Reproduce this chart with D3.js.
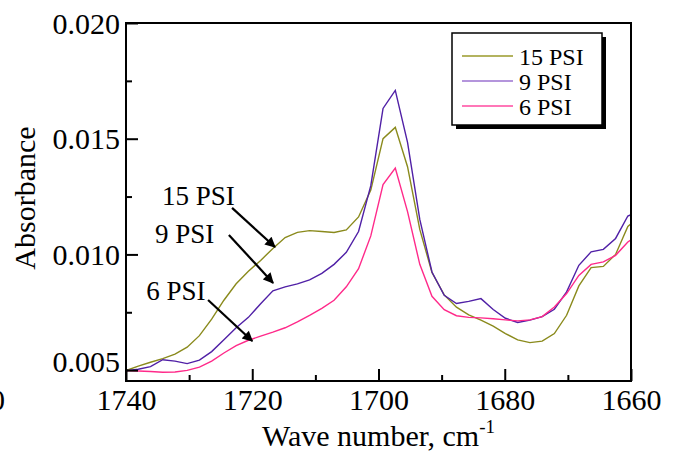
<!DOCTYPE html>
<html>
<head>
<meta charset="utf-8">
<script src="https://cdn.jsdelivr.net/npm/d3@7"></script>
<style>
  html, body { margin: 0; padding: 0; background: #fff; }
  svg, svg text { font-family: "Liberation Serif", "Times New Roman", Times, Tinos, "DejaVu Serif", serif !important; }
  svg { display: block; }
</style>
</head>
<body>
<svg id="chart" width="675" height="452"></svg>
<script>
// ---------------- data ----------------
const wavenumbers = [1740.00, 1738.06, 1736.12, 1734.18, 1732.24, 1730.31, 1728.37, 1726.43, 1724.49, 1722.55,
  1720.61, 1718.67, 1716.73, 1714.79, 1712.85, 1710.92, 1708.98, 1707.04, 1705.10, 1703.16,
  1701.22, 1699.28, 1697.34, 1695.40, 1693.46, 1691.53, 1689.59, 1687.65, 1685.71, 1683.77,
  1681.83, 1679.89, 1677.95, 1676.01, 1674.07, 1672.14, 1670.20, 1668.26, 1666.32, 1664.38,
  1662.44, 1660.50, 1660.00];

const psi15 = [0.00498, 0.00517, 0.00534, 0.00550, 0.00569, 0.00599, 0.00649, 0.00720, 0.00802, 0.00873,
  0.00927, 0.00974, 0.01026, 0.01073, 0.01095, 0.01103, 0.01099, 0.01095, 0.01106, 0.01162,
  0.01278, 0.01500, 0.01549, 0.01379, 0.01108, 0.00922, 0.00825, 0.00772, 0.00739, 0.00716,
  0.00690, 0.00658, 0.00631, 0.00619, 0.00625, 0.00658, 0.00737, 0.00864, 0.00943, 0.00948,
  0.01000, 0.01121, 0.01132];

const psi9 = [0.00498, 0.00504, 0.00515, 0.00545, 0.00539, 0.00528, 0.00543, 0.00580, 0.00631, 0.00683,
  0.00728, 0.00787, 0.00843, 0.00860, 0.00873, 0.00890, 0.00918, 0.00957, 0.01009, 0.01099,
  0.01297, 0.01631, 0.01709, 0.01484, 0.01151, 0.00924, 0.00823, 0.00788, 0.00797, 0.00809,
  0.00762, 0.00724, 0.00706, 0.00716, 0.00731, 0.00763, 0.00838, 0.00953, 0.01011, 0.01022,
  0.01069, 0.01166, 0.01172];

const psi6 = [0.00498, 0.00496, 0.00494, 0.00491, 0.00492, 0.00499, 0.00513, 0.00539, 0.00574, 0.00606,
  0.00629, 0.00647, 0.00664, 0.00683, 0.00709, 0.00737, 0.00767, 0.00802, 0.00860, 0.00938,
  0.01080, 0.01302, 0.01373, 0.01185, 0.00957, 0.00819, 0.00761, 0.00735, 0.00728, 0.00726,
  0.00722, 0.00717, 0.00713, 0.00717, 0.00731, 0.00773, 0.00831, 0.00909, 0.00957, 0.00968,
  0.00996, 0.01054, 0.01063];

const seriesNames = ["15 PSI", "9 PSI", "6 PSI"];
const seriesColors = ["#8a8a1c", "#5020a6", "#ff2a8a"];
const legendColors = ["#9a9a2a", "#9b72d0", "#ff4aa0"];

const xMajorTicks = [1740, 1720, 1700, 1680, 1660];
const xMinorTicks = [1730, 1710, 1690, 1670];
const yMajorTicks = [0.005, 0.010, 0.015, 0.020];
const yMinorTicks = [0.0075, 0.0125, 0.0175];

// annotation labels (text anchor) and arrows (from -> to), in data units
const annotations = [
  { text: "15 PSI", tx: 1734.3, ty: 0.01214, x1: 1723.2, y1: 0.01201, x2: 1716.4, y2: 0.01032 },
  { text: "9 PSI",  tx: 1735.4, ty: 0.01049, x1: 1723.7, y1: 0.01084, x2: 1716.7, y2: 0.00877 },
  { text: "6 PSI",  tx: 1736.8, ty: 0.00803, x1: 1727.0, y1: 0.00803, x2: 1720.0, y2: 0.00626 }
];

// ---------------- layout ----------------
const FONT = "'Liberation Serif', 'Times New Roman', Times, Tinos, 'DejaVu Serif', serif";
const svg = d3.select("#chart");
const L = 126, R = 631, T = 23, B = 381;

const x = d3.scaleLinear().domain([1740, 1660]).range([L, R]);
const y = d3.scaleLinear().domain([0.00453, 0.020]).range([B, T]);

const defs = svg.append("defs");
defs.append("clipPath").attr("id", "plotclip")
  .append("rect").attr("x", L).attr("y", T).attr("width", R - L).attr("height", B - T);

defs.append("marker")
  .attr("id", "arrowhead").attr("viewBox", "0 0 10 10")
  .attr("refX", 9).attr("refY", 5)
  .attr("markerWidth", 5.5).attr("markerHeight", 4.8)
  .attr("markerUnits", "strokeWidth")
  .attr("orient", "auto")
  .append("path").attr("d", "M0,0 L10,5 L0,10 z").attr("fill", "#000");

// ---------------- lines ----------------
const line = d3.line().x((d, i) => x(wavenumbers[i])).y(d => y(d));
const allSeries = [psi15, psi9, psi6];
const g = svg.append("g").attr("clip-path", "url(#plotclip)");
allSeries.forEach((s, i) => {
  g.append("path").datum(s)
    .attr("d", line)
    .attr("fill", "none")
    .attr("stroke", seriesColors[i])
    .attr("stroke-width", 1.4);
});

// ---------------- frame & ticks ----------------
svg.append("rect").attr("x", L).attr("y", T).attr("width", R - L).attr("height", B - T)
  .attr("fill", "none").attr("stroke", "#000").attr("stroke-width", 2);

function styleAxis(sel) {
  sel.attr("font-family", FONT);
  sel.select(".domain").remove();
  sel.selectAll(".tick line").attr("stroke", "#000").attr("stroke-width", 2);
}

const xAxis = d3.axisBottom(x).tickValues(xMajorTicks).tickSize(-12).tickFormat(d3.format("d")).tickPadding(0);
const xg = svg.append("g").attr("transform", `translate(0,${B})`).call(xAxis).call(styleAxis);
xg.selectAll(".tick text").attr("font-size", 30).attr("fill", "#000")
  .attr("font-family", FONT).attr("y", 29).attr("dy", 0);

const xMinor = d3.axisBottom(x).tickValues(xMinorTicks).tickSize(-6).tickFormat("");
svg.append("g").attr("transform", `translate(0,${B})`).call(xMinor).call(styleAxis);

const yAxis = d3.axisLeft(y).tickValues(yMajorTicks).tickSize(-12).tickFormat(d3.format(".3f"));
const yg = svg.append("g").attr("transform", `translate(${L},0)`).call(yAxis).call(styleAxis);
yg.selectAll(".tick text").attr("font-size", 30).attr("fill", "#000")
  .attr("font-family", FONT).attr("x", -6).attr("dy", "0.34em");
yg.selectAll(".tick").filter(d => d === 0.005).select("text").attr("dy", "0.05em");

const yMinor = d3.axisLeft(y).tickValues(yMinorTicks).tickSize(-6).tickFormat("");
svg.append("g").attr("transform", `translate(${L},0)`).call(yMinor).call(styleAxis);

// ---------------- axis titles ----------------
const xt = svg.append("text").attr("x", (L + R) / 2).attr("y", 446)
  .attr("text-anchor", "middle").attr("font-size", 30).attr("fill", "#000").attr("font-family", FONT);
xt.append("tspan").text("Wave number, cm");
xt.append("tspan").attr("font-size", 19).attr("dy", -13).text("-1");

svg.append("text").attr("transform", "translate(35,198) rotate(-90)")
  .attr("text-anchor", "middle").attr("font-size", 30).attr("fill", "#000")
  .attr("font-family", FONT).text("Absorbance");

// clipped fragment at the left edge (as in the reference)
svg.append("text").attr("x", -10).attr("y", 410).attr("font-size", 30).attr("fill", "#000")
  .attr("font-family", FONT).text("0");

// ---------------- annotations ----------------
annotations.forEach(a => {
  svg.append("text").attr("x", x(a.tx)).attr("y", y(a.ty))
    .attr("font-size", 27).attr("fill", "#000").attr("font-family", FONT).text(a.text);
  svg.append("line")
    .attr("x1", x(a.x1)).attr("y1", y(a.y1))
    .attr("x2", x(a.x2)).attr("y2", y(a.y2))
    .attr("stroke", "#000").attr("stroke-width", 2.2)
    .attr("marker-end", "url(#arrowhead)");
});

// ---------------- legend ----------------
const lg = svg.append("g");
const lx = 452, ly = 33, lw = 150, lh = 92;
lg.append("rect").attr("x", lx + 4).attr("y", ly + 4).attr("width", lw).attr("height", lh).attr("fill", "#000");
lg.append("rect").attr("x", lx).attr("y", ly).attr("width", lw).attr("height", lh)
  .attr("fill", "#fff").attr("stroke", "#000").attr("stroke-width", 1.5);
seriesNames.forEach((name, i) => {
  const cy = 56 + i * 25;
  lg.append("line").attr("x1", 462).attr("x2", 513).attr("y1", cy).attr("y2", cy)
    .attr("stroke", legendColors[i]).attr("stroke-width", 1.6);
  lg.append("text").attr("x", 519).attr("y", cy + 9).attr("font-size", 24).attr("fill", "#000")
    .attr("font-family", FONT).text(name);
});
</script>
</body>
</html>
